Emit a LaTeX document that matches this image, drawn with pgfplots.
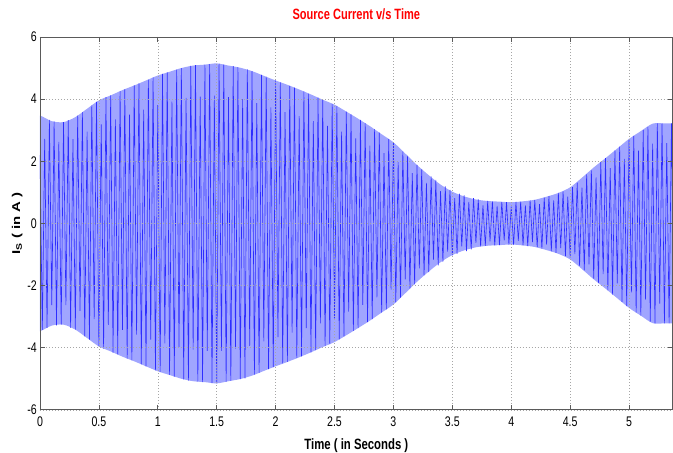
\documentclass[border=0pt]{standalone}
\usepackage{fontspec}
\setmainfont{Liberation Sans}
\usepackage{graphicx}
\usepackage{pgfplots}
\pgfplotsset{compat=1.18}
\definecolor{sigline}{RGB}{45,45,255}
\definecolor{sigfill}{RGB}{160,165,255}
\definecolor{axgray}{RGB}{90,90,90}
\begin{document}
\begin{tikzpicture}
\begin{axis}[
  name=ax,
  scale only axis,
  width=633bp, height=373bp,
  xmin=0, xmax=5.37, ymin=-6, ymax=6,
  xtick={0,0.5,...,5}, ytick={-6,-4,...,6},
  axis on top,
  grid=major,
  major grid style={gray!70, line width=0.5bp, dash pattern=on 1bp off 2bp},
  axis line style={axgray, line width=0.7bp},
  tick style={axgray, line width=0.6bp},
  major tick length=5bp,
  /pgf/number format/assume math mode=true,
  xticklabel={\scalebox{0.76}[1]{\fontsize{14}{16}\selectfont\pgfmathprintnumber{\tick}}},
  yticklabel={\scalebox{0.76}[1]{\fontsize{14}{16}\selectfont\pgfmathprintnumber{\tick}}},
  xticklabel style={anchor=base, yshift=-17bp, inner sep=0pt},
  yticklabel style={anchor=east, xshift=-3bp, inner sep=0pt},
  title={\scalebox{0.74}[1]{\fontsize{15}{17}\selectfont\bfseries Source Current v/s Time}},
  title style={at={(axis description cs:0.5,1.032)}, anchor=base, text=red, inner sep=0pt},
  xlabel={\scalebox{0.76}[1]{\fontsize{15}{17}\selectfont\bfseries Time ( in Seconds )}},
  xlabel style={at={(axis description cs:0.5,-0.107)}, anchor=base, inner sep=0pt},
  ylabel={\scalebox{1}[0.76]{\fontsize{15}{17}\selectfont\bfseries I\textsubscript{S} ( in A )}},
  ylabel style={at={(axis description cs:-0.036,0.5)}, anchor=center, rotate=0, inner sep=0pt},
]
\addplot[fill=sigfill, draw=none, smooth, tension=0.5] coordinates {
(-0.3,3.6)(-0.15,3.6)
(0,3.47)(0.1,3.29)(0.2,3.26)(0.3,3.42)(0.4,3.69)(0.5,3.96)(0.6,4.12)(0.7,4.29)(0.8,4.44)(0.9,4.60)
(1.0,4.76)(1.1,4.88)(1.2,5.00)(1.3,5.08)(1.4,5.11)(1.5,5.15)(1.6,5.08)(1.7,5.01)(1.8,4.90)(1.9,4.75)
(2.0,4.60)(2.1,4.46)(2.2,4.31)(2.3,4.15)(2.4,3.98)(2.5,3.82)(2.6,3.60)(2.7,3.37)(2.8,3.13)(2.9,2.87)
(3.0,2.61)(3.1,2.25)(3.2,1.88)(3.3,1.55)(3.4,1.25)(3.5,1.02)(3.6,0.87)(3.7,0.77)(3.8,0.72)(3.9,0.70)
(4.0,0.68)(4.1,0.71)(4.2,0.76)(4.3,0.86)(4.4,0.98)(4.5,1.16)(4.6,1.47)(4.7,1.80)(4.8,2.10)(4.9,2.41)
(5.0,2.72)(5.1,2.97)(5.2,3.21)(5.3,3.22)(5.45,3.22)(5.6,3.22)
(5.6,-3.22)(5.45,-3.22)(5.3,-3.22)(5.2,-3.21)(5.1,-2.97)(5.0,-2.72)
(4.9,-2.41)(4.8,-2.10)(4.7,-1.80)(4.6,-1.47)(4.5,-1.16)(4.4,-0.98)(4.3,-0.86)(4.2,-0.76)(4.1,-0.71)(4.0,-0.68)
(3.9,-0.70)(3.8,-0.72)(3.7,-0.77)(3.6,-0.87)(3.5,-1.02)(3.4,-1.25)(3.3,-1.55)(3.2,-1.88)(3.1,-2.25)(3.0,-2.61)
(2.9,-2.87)(2.8,-3.13)(2.7,-3.37)(2.6,-3.60)(2.5,-3.82)(2.4,-3.98)(2.3,-4.15)(2.2,-4.31)(2.1,-4.46)(2.0,-4.60)
(1.9,-4.75)(1.8,-4.90)(1.7,-5.01)(1.6,-5.08)(1.5,-5.15)(1.4,-5.11)(1.3,-5.08)(1.2,-5.00)(1.1,-4.88)(1.0,-4.76)
(0.9,-4.60)(0.8,-4.44)(0.7,-4.29)(0.6,-4.12)(0.5,-3.96)(0.4,-3.69)(0.3,-3.42)(0.2,-3.26)(0.1,-3.29)(0,-3.47)
(-0.15,-3.6)(-0.3,-3.6)
} -- cycle;
\addplot[sigline, line width=0.6bp] coordinates {
(0,2.2)(0.02,-3.43)(0.04,2.72)(0.06,-3.36)(0.08,3.33)(0.1,-2.63)(0.12,3.28)(0.14,-3.28)(0.16,2.62)(0.18,-3.27)
(0.2,3.26)(0.22,-2.63)(0.24,3.32)(0.26,-3.36)(0.28,2.71)(0.3,-3.42)(0.32,3.47)(0.34,-2.82)(0.36,3.58)(0.38,-3.64)
(0.4,2.95)(0.42,-3.74)(0.44,3.8)(0.46,-3.08)(0.48,3.91)(0.5,-3.96)(0.52,3.19)(0.54,-4.03)(0.56,4.06)(0.58,-3.27)
(0.6,4.12)(0.62,-4.16)(0.64,3.35)(0.66,-4.22)(0.68,4.26)(0.7,-3.43)(0.72,4.32)(0.74,-4.35)(0.76,3.5)(0.78,-4.41)
(0.8,4.44)(0.82,-3.58)(0.84,4.51)(0.86,-4.54)(0.88,3.66)(0.9,-4.6)(0.92,4.63)(0.94,-3.74)(0.96,4.7)(0.98,-4.73)
(1,3.81)(1.02,-4.78)(1.04,4.81)(1.06,-3.86)(1.08,4.86)(1.1,-4.88)(1.12,3.92)(1.14,-4.93)(1.16,4.95)(1.18,-3.98)
(1.2,5)(1.22,-5.02)(1.24,4.04)(1.26,-5.06)(1.28,5.07)(1.3,-4.06)(1.32,5.09)(1.34,-5.09)(1.36,4.08)(1.38,-5.11)
(1.4,5.11)(1.42,-4.1)(1.44,5.13)(1.46,-5.14)(1.48,4.11)(1.5,-5.15)(1.52,5.14)(1.54,-4.1)(1.56,5.11)(1.58,-5.1)
(1.6,4.06)(1.62,-5.07)(1.64,5.06)(1.66,-4.03)(1.68,5.03)(1.7,-5.01)(1.72,4)(1.74,-4.99)(1.76,4.96)(1.78,-3.94)
(1.8,4.9)(1.82,-4.87)(1.84,3.87)(1.86,-4.81)(1.88,4.78)(1.9,-3.8)(1.92,4.72)(1.94,-4.69)(1.96,3.73)(1.98,-4.63)
(2,4.6)(2.02,-3.66)(2.04,4.54)(2.06,-4.51)(2.08,3.58)(2.1,-4.46)(2.12,4.43)(2.14,-3.52)(2.16,4.37)(2.18,-4.34)
(2.2,3.45)(2.22,-4.28)(2.24,4.25)(2.26,-3.37)(2.28,4.18)(2.3,-4.15)(2.32,3.29)(2.34,-4.08)(2.36,4.05)(2.38,-3.22)
(2.4,3.98)(2.42,-3.95)(2.44,3.14)(2.46,-3.89)(2.48,3.85)(2.5,-3.06)(2.52,3.78)(2.54,-3.73)(2.56,2.95)(2.58,-3.64)
(2.6,3.6)(2.62,-2.84)(2.64,3.51)(2.66,-3.46)(2.68,2.74)(2.7,-3.37)(2.72,3.33)(2.74,-2.62)(2.76,3.23)(2.78,-3.18)
(2.8,2.5)(2.82,-3.08)(2.84,3.03)(2.86,-2.38)(2.88,2.92)(2.9,-2.87)(2.92,2.26)(2.94,-2.77)(2.96,2.71)(2.98,-2.13)
(3,2.61)(3.02,-2.54)(3.04,1.97)(3.06,-2.39)(3.08,2.32)(3.1,-1.8)(3.12,2.17)(3.14,-2.1)(3.16,1.62)(3.18,-1.96)
(3.2,1.88)(3.22,-1.45)(3.24,1.74)(3.26,-1.67)(3.28,1.3)(3.3,-1.57)(3.32,1.51)(3.34,-1.17)(3.36,1.4)(3.38,-1.35)
(3.4,1.04)(3.42,-1.24)(3.44,1.19)(3.46,-0.91)(3.48,1.08)(3.5,-1.03)(3.52,0.81)(3.54,-0.98)(3.56,0.96)(3.58,-0.74)
(3.6,0.91)(3.62,-0.89)(3.64,0.69)(3.66,-0.84)(3.68,0.81)(3.7,-0.63)(3.72,0.77)(3.74,-0.74)(3.76,0.58)(3.78,-0.72)
(3.8,0.72)(3.82,-0.58)(3.84,0.71)(3.86,-0.71)(3.88,0.56)(3.9,-0.7)(3.92,0.69)(3.94,-0.55)(3.96,0.68)(3.98,-0.68)
(4,0.54)(4.02,-0.69)(4.04,0.69)(4.06,-0.56)(4.08,0.7)(4.1,-0.71)(4.12,0.58)(4.14,-0.73)(4.16,0.74)(4.18,-0.6)
(4.2,0.76)(4.22,-0.77)(4.24,0.62)(4.26,-0.81)(4.28,0.83)(4.3,-0.68)(4.32,0.88)(4.34,-0.9)(4.36,0.74)(4.38,-0.95)
(4.4,0.98)(4.42,-0.8)(4.44,1.03)(4.46,-1.05)(4.48,0.86)(4.5,-1.1)(4.52,1.17)(4.54,-0.99)(4.56,1.31)(4.58,-1.37)
(4.6,1.15)(4.62,-1.51)(4.64,1.58)(4.66,-1.32)(4.68,1.71)(4.7,-1.78)(4.72,1.48)(4.74,-1.92)(4.76,1.98)(4.78,-1.63)
(4.8,2.1)(4.82,-2.16)(4.84,1.78)(4.86,-2.29)(4.88,2.35)(4.9,-1.93)(4.92,2.47)(4.94,-2.53)(4.96,2.08)(4.98,-2.66)
(5,2.72)(5.02,-2.22)(5.04,2.82)(5.06,-2.87)(5.08,2.34)(5.1,-2.97)(5.12,3.01)(5.14,-2.45)(5.16,3.11)(5.18,-3.16)
(5.2,2.57)(5.22,-3.22)(5.24,3.22)(5.26,-2.58)(5.28,3.22)(5.3,-3.22)(5.32,2.58)(5.34,-3.22)(5.36,3.22)(5.38,-2.58)
};
\end{axis}
\path[use as bounding box] ([xshift=-40bp,yshift=-42bp]ax.south west) rectangle ([yshift=37bp]ax.north east);
\end{tikzpicture}
\end{document}
